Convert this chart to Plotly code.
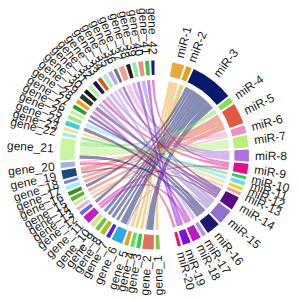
import numpy as np
import plotly.graph_objects as go

# ---------------- data ----------------
mirs = [f"miR-{i}" for i in range(1, 21)]
genes = [f"gene_{i}" for i in range(1, 43)]

mir_colors = ["#E8A838", "#E0A020", "#0A1A6A", "#80E050", "#E05A40", "#F090C0",
              "#B8F080", "#B070E0", "#E0108A", "#30D060", "#60E0E0", "#F0D020",
              "#F0A098", "#5A0A80", "#9070C8", "#201870", "#B090F0", "#C018C0",
              "#8010D8", "#F01070"]

gene_colors = ["#8BC34A", "#E07060", "#30D040", "#60E060", "#E0A020", "#30A8E8",
               "#5020E0", "#A8C020", "#70C040", "#C8E878", "#C020C0", "#6A6AE0",
               "#F0A8C8", "#C0F0A0", "#60B030", "#3C8C28", "#A0F0F0", "#7080E8",
               "#1A4A7A", "#A8B0E8", "#C8F5A0", "#A0F0E0", "#F0E090", "#40D0D0",
               "#A0E880", "#C0F0A0", "#20A040", "#F0A020", "#2A3A2A", "#151515",
               "#B8F0A0", "#2A0A5A", "#D06010", "#A0F0C8", "#C0A0F0", "#6A7090",
               "#F0A090", "#301A1A", "#80F0B0", "#F09080", "#40C040", "#102080"]

# links: miR number -> gene number with value
link_mir = [1, 1, 1,
            2, 2,
            3, 3, 3, 3, 3, 3, 3, 3,
            4,
            5, 5, 5, 5, 5,
            6, 6,
            7,
            8, 8, 8,
            9, 9, 9,
            10, 11, 12, 13,
            14, 14, 14, 14,
            15, 15, 15, 15,
            16, 16, 16,
            17,
            18, 18,
            19, 19,
            20]
link_gene = [1, 3, 5,
             4, 2,
             2, 6, 7, 8, 9, 10, 12, 16,
             21,
             13, 15, 17, 18, 19,
             37, 20,
             21,
             33, 35, 38,
             11, 31, 42,
             22, 25, 23, 14,
             29, 26, 36, 19,
             30, 32, 40, 6,
             24, 27, 21,
             34,
             11, 28,
             39, 41,
             20]
link_value = [2.5, 2.5, 2.5,
              2.5, 1.0,
              6.0, 5.5, 2.5, 3.0, 2.5, 2.5, 2.5, 2.5,
              3.5,
              2.0, 2.5, 2.5, 2.0, 4.0,
              3.5, 1.5,
              7.5,
              2.5, 2.5, 2.5,
              2.0, 2.5, 2.0,
              2.0, 2.5, 2.0, 2.0,
              3.0, 2.0, 2.0, 1.5,
              2.5, 2.5, 3.0, 1.5,
              3.0, 2.5, 3.0,
              2.5,
              3.0, 2.5,
              2.5, 2.5,
              2.0]

# ---------------- geometry ----------------
CX, CY = 154.5, 155.0
R_CHORD, R_IN, R_OUT, R_LAB = 75.0, 80.0, 94.5, 100.5
GAP, TOP_GAP, BOTTOM_GAP = 1.3, 11.0, 11.0
FONT_SIZE = 12

nm, ng = len(mirs), len(genes)
vals = np.array(link_value)
lm = np.array(link_mir) - 1
lg = np.array(link_gene) - 1
mir_tot = np.array([vals[lm == i].sum() for i in range(nm)])
gene_tot = np.array([vals[lg == j].sum() for j in range(ng)])
unit = (360 - TOP_GAP - BOTTOM_GAP - GAP * (nm - 1 + ng - 1)) / (mir_tot.sum() + gene_tot.sum())

mir_start = np.zeros(nm)
a = TOP_GAP
for i in range(nm):
    mir_start[i] = a
    a += mir_tot[i] * unit + GAP
a += BOTTOM_GAP - GAP
gene_start = np.zeros(ng)
for j in range(ng):
    gene_start[j] = a
    a += gene_tot[j] * unit + GAP


def pt(phi, r):
    t = np.radians(phi)
    return CX + r * np.sin(t), CY - r * np.cos(t)


def arc(p0, p1, r):
    n = max(3, int(abs(p1 - p0) * 3))
    ph = np.linspace(p0, p1, n)
    return pt(ph, r)


def bez(p0, p1):
    x0, y0 = pt(p0, R_CHORD)
    x1, y1 = pt(p1, R_CHORD)
    t = np.linspace(0, 1, 40)
    x = (1 - t) ** 2 * x0 + 2 * t * (1 - t) * CX + t ** 2 * x1
    y = (1 - t) ** 2 * y0 + 2 * t * (1 - t) * CY + t ** 2 * y1
    return x, y


def rgba(hexc, alpha):
    h = hexc.lstrip("#")
    r, g, b = int(h[0:2], 16), int(h[2:4], 16), int(h[4:6], 16)
    return f"rgba({r},{g},{b},{alpha})"


# link positions inside sectors (ordered to avoid crossings)
mir_pos = {}
for i in range(nm):
    idx = [k for k in range(len(vals)) if lm[k] == i]
    idx.sort(key=lambda k: -lg[k])
    a = mir_start[i]
    for k in idx:
        mir_pos[k] = (a, a + vals[k] * unit)
        a += vals[k] * unit
gene_pos = {}
for j in range(ng):
    idx = [k for k in range(len(vals)) if lg[k] == j]
    idx.sort(key=lambda k: -lm[k])
    a = gene_start[j]
    for k in idx:
        gene_pos[k] = (a, a + vals[k] * unit)
        a += vals[k] * unit

fig = go.Figure()

# chords
for k in range(len(vals)):
    s0, s1 = mir_pos[k]
    t0, t1 = gene_pos[k]
    xa, ya = arc(s0, s1, R_CHORD)
    xb, yb = bez(s1, t0)
    xc, yc = arc(t0, t1, R_CHORD)
    xd, yd = bez(t1, s0)
    x = np.concatenate([xa, xb, xc, xd])
    y = np.concatenate([ya, yb, yc, yd])
    fig.add_trace(go.Scatter(x=x, y=y, mode="lines", fill="toself",
                             fillcolor=rgba(mir_colors[lm[k]], 0.5),
                             line=dict(width=0), hoverinfo="skip"))


def sector(p0, p1, color):
    xo, yo = arc(p0, p1, R_OUT)
    xi, yi = arc(p1, p0, R_IN)
    fig.add_trace(go.Scatter(x=np.concatenate([xo, xi]), y=np.concatenate([yo, yi]),
                             mode="lines", fill="toself", fillcolor=color,
                             line=dict(width=0), hoverinfo="skip"))


CW = {"g": .556, "e": .556, "n": .556, "_": .556, "m": .833, "i": .222,
      "R": .722, "-": .333}


def text_w(s):
    return sum(CW.get(c, .556) for c in s) * FONT_SIZE


annotations = []


def label(text, phi, right):
    w = text_w(text)
    r = R_LAB + w / 2
    x, y = pt(phi, r)
    ang = phi - 90 if right else phi - 270
    annotations.append(dict(x=x, y=y, xref="x", yref="y", text=text, showarrow=False,
                            textangle=ang, xanchor="center", yanchor="middle",
                            font=dict(size=FONT_SIZE, color="#1a1a1a",
                                      family="Liberation Sans, Arial, sans-serif")))


for i in range(nm):
    p0 = mir_start[i]
    p1 = p0 + mir_tot[i] * unit
    sector(p0, p1, mir_colors[i])
    label(mirs[i], (p0 + p1) / 2, True)
for j in range(ng):
    p0 = gene_start[j]
    p1 = p0 + gene_tot[j] * unit
    sector(p0, p1, gene_colors[j])
    label(genes[j], (p0 + p1) / 2, False)

fig.update_layout(
    width=300, height=300, margin=dict(l=0, r=0, t=0, b=0),
    paper_bgcolor="white", plot_bgcolor="white", showlegend=False,
    xaxis=dict(range=[0, 300], visible=False, fixedrange=True),
    yaxis=dict(range=[300, 0], visible=False, fixedrange=True),
    annotations=annotations,
)
fig.write_html("out.html")
